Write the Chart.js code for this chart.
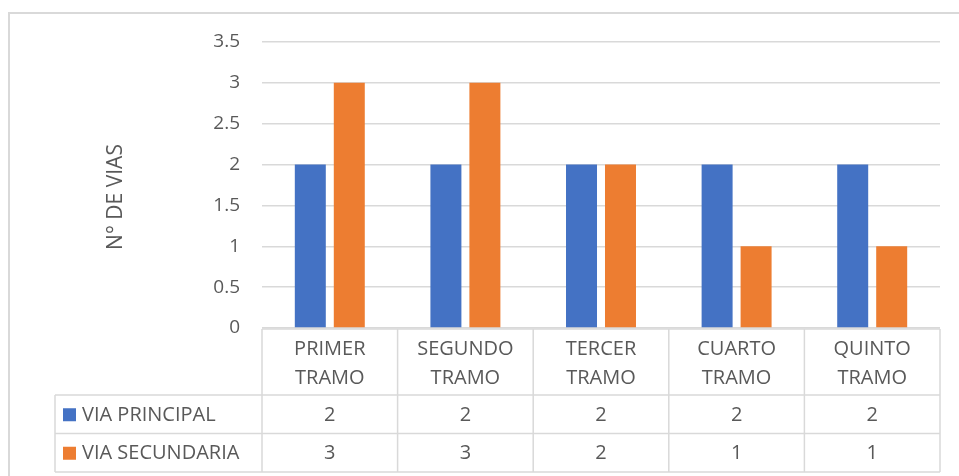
<!DOCTYPE html>
<html>
<head>
<meta charset="utf-8">
<script src="https://cdn.jsdelivr.net/npm/chart.js@4"></script>
<style>
  html, body { margin: 0; padding: 0; background: #fff; }
  #wrap { position: relative; width: 959px; height: 476px; }
</style>
</head>
<body>
<div id="wrap"><canvas id="chart" width="959" height="476"></canvas></div>
<script>
// datos
const tramos = [["PRIMER", "TRAMO"], ["SEGUNDO", "TRAMO"], ["TERCER", "TRAMO"], ["CUARTO", "TRAMO"], ["QUINTO", "TRAMO"]];
const viaPrincipal = [2, 2, 2, 2, 2];
const viaSecundaria = [3, 3, 2, 1, 1];
const serieNombres = ["VIA PRINCIPAL", "VIA SECUNDARIA"];
const tituloY = "N° DE VIAS";
const colores = ["#4472c4", "#ed7d31"];

const FONT = "'Open Sans', 'Noto Sans', sans-serif";
const TEXT = "#595959";
const LINE = "#d9d9d9";

// tabla de datos bajo el eje x
const tablaPlugin = {
  id: "tabla",
  beforeDraw(chart) {
    const c = chart.ctx;
    // borde del area del grafico
    c.save();
    c.strokeStyle = LINE;
    c.lineWidth = 2;
    c.beginPath();
    c.moveTo(9, 480);
    c.lineTo(9, 13);
    c.lineTo(962, 13);
    c.stroke();
    // titulo del eje y
    c.fillStyle = TEXT;
    c.font = "21px " + FONT;
    c.textAlign = "center";
    c.textBaseline = "middle";
    c.translate(116, 197);
    c.rotate(-Math.PI / 2);
    c.fillText(tituloY, 0, 0);
    c.restore();
  },
  afterDraw(chart) {
    const c = chart.ctx;
    const x = chart.scales.x;
    const area = chart.chartArea;
    const w = (x.right - x.left) / tramos.length;
    const top = area.bottom + 1;
    const headBottom = 395;
    const rowH = 38.5;
    const legendLeft = 55;
    const series = [viaPrincipal, viaSecundaria];

    c.save();
    c.strokeStyle = LINE;
    c.lineWidth = 1.5;
    c.beginPath();
    // lineas verticales de las categorias
    for (let i = 0; i <= tramos.length; i++) {
      const px = x.left + i * w;
      c.moveTo(px, top);
      c.lineTo(px, headBottom + rowH * 2);
    }
    c.moveTo(x.left, top);
    c.lineTo(x.right, top);
    c.moveTo(legendLeft, headBottom);
    c.lineTo(legendLeft, headBottom + rowH * 2);
    for (let r = 0; r <= 2; r++) {
      c.moveTo(legendLeft, headBottom + r * rowH);
      c.lineTo(x.right, headBottom + r * rowH);
    }
    c.stroke();

    c.fillStyle = TEXT;
    c.font = "20px " + FONT;
    c.textAlign = "center";
    c.textBaseline = "middle";
    tramos.forEach((lab, i) => {
      const cx = x.getPixelForValue(i);
      c.fillText(lab[0], cx, 349);
      c.fillText(lab[1], cx, 378);
    });

    series.forEach((vals, r) => {
      const cy = headBottom + r * rowH + rowH / 2;
      c.fillStyle = colores[r];
      c.fillRect(63, cy - 6, 13, 13);
      c.fillStyle = TEXT;
      c.textAlign = "left";
      c.fillText(serieNombres[r], 82, cy + 1);
      c.textAlign = "center";
      vals.forEach((v, i) => {
        c.fillText(String(v), x.getPixelForValue(i), cy + 1);
      });
    });
    c.restore();
  }
};

new Chart(document.getElementById("chart"), {
  type: "bar",
  data: {
    labels: tramos.map((t) => t.join(" ")),
    datasets: [
      { label: serieNombres[0], data: viaPrincipal, backgroundColor: colores[0] },
      { label: serieNombres[1], data: viaSecundaria, backgroundColor: colores[1] },
    ],
  },
  plugins: [tablaPlugin],
  options: {
    responsive: false,
    animation: false,
    layout: { padding: { left: 96, right: 19, top: 42, bottom: 148 } },
    categoryPercentage: 0.575,
    barPercentage: 0.795,
    plugins: { legend: { display: false }, tooltip: { enabled: false } },
    scales: {
      x: { display: false },
      y: {
        min: 0,
        max: 3.5,
        afterFit: (scale) => { scale.width = 166; },
        border: { display: false },
        grid: { color: LINE, lineWidth: 1.5, drawTicks: false },
        ticks: {
          stepSize: 0.5,
          padding: 22,
          color: TEXT,
          font: { family: FONT, size: 19 },
          callback: (v) => String(v),
        },
      },
    },
  },
});
</script>
</body>
</html>
